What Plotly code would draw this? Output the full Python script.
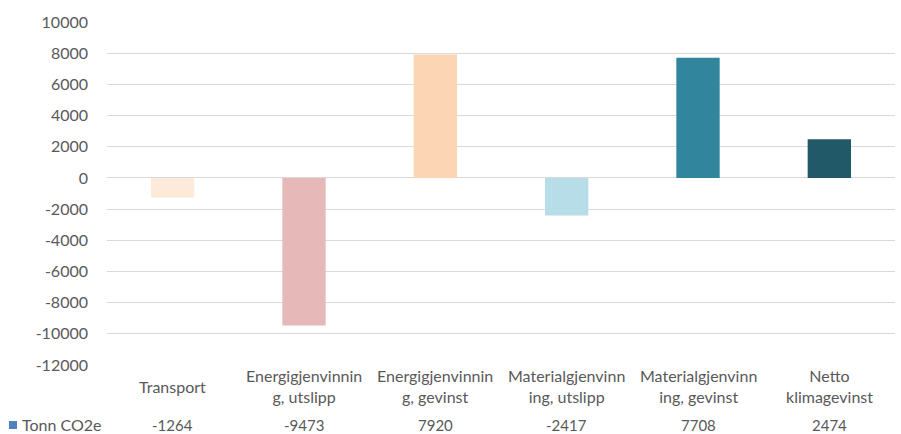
import plotly.graph_objects as go

categories = ["Transport", "Energigjenvinning, utslipp", "Energigjenvinning, gevinst",
              "Materialgjenvinning, utslipp", "Materialgjenvinning, gevinst", "Netto klimagevinst"]
category_labels = ["Transport", "Energigjenvinnin<br>g, utslipp", "Energigjenvinnin<br>g, gevinst",
                   "Materialgjenvinn<br>ing, utslipp", "Materialgjenvinn<br>ing, gevinst", "Netto<br>klimagevinst"]
values = [-1264, -9473, 7920, -2417, 7708, 2474]
bar_colors = ["#FDEADA", "#E6B9B8", "#FCD5B5", "#B7DEE8", "#31859C", "#215968"]
series_name = "Tonn CO2e"
y_ticks = list(range(-12000, 10001, 2000))

W, H = 901, 434
L, R, T, B = 107, 6, 22, 69
ph = H - T - B
pw = W - L - R

def py(pix):
    return (H - B - pix) / ph

def px(pix):
    return (pix - L) / pw

FONT = "Lato"
GREY = "#595959"

fig = go.Figure()
fig.add_trace(go.Bar(x=categories, y=values, marker=dict(color=bar_colors, line=dict(width=0)),
                     width=0.33, name=series_name, showlegend=False, hoverinfo="skip"))

annotations = []
for c, lab, v in zip(categories, category_labels, values):
    annotations.append(dict(x=c, xref="x", y=py(386), yref="paper", text=lab, showarrow=False,
                            xanchor="center", yanchor="middle",
                            font=dict(family=FONT, size=16, color=GREY)))
    annotations.append(dict(x=c, xref="x", y=py(425), yref="paper", text=str(v), showarrow=False,
                            xanchor="center", yanchor="middle",
                            font=dict(family=FONT, size=15, color=GREY)))
annotations.append(dict(x=px(20), xref="paper", y=py(425), yref="paper", text=series_name,
                        showarrow=False, xanchor="left", yanchor="middle",
                        font=dict(family=FONT, size=16, color=GREY)))

fig.update_layout(
    width=W, height=H,
    margin=dict(l=L, r=R, t=T, b=B),
    plot_bgcolor="white", paper_bgcolor="white",
    annotations=annotations,
    shapes=[dict(type="rect", xref="paper", yref="paper",
                 x0=px(9), x1=px(17), y0=py(429), y1=py(421),
                 fillcolor="#4F81BD", line=dict(width=0))],
    xaxis=dict(showticklabels=False, showgrid=False, zeroline=False, showline=False, ticks=""),
    yaxis=dict(range=[-12000, 10000], tickvals=y_ticks, ticktext=[str(t) for t in y_ticks],
               showgrid=True, gridcolor="#D9D9D9", gridwidth=1,
               zeroline=True, zerolinecolor="#D9D9D9", zerolinewidth=1,
               showline=False, ticks="", ticklen=0, ticklabelstandoff=18,
               tickfont=dict(family=FONT, size=16, color=GREY)),
    bargap=0.67,
)

fig.write_html("out.html", config={"displayModeBar": False},
               post_script="document.body.style.margin='0';document.body.style.overflow='hidden';")
